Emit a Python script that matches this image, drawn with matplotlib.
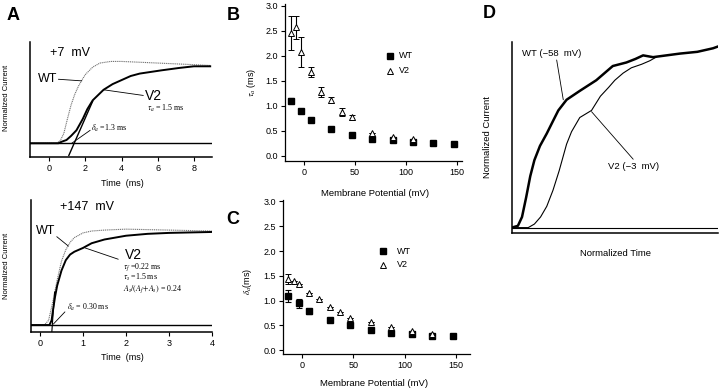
#!/usr/bin/env python3
"""Activation kinetics of WT vs V2 channels: traces, tau_a and delta_a vs voltage."""
import matplotlib
matplotlib.use("Agg")
import matplotlib.pyplot as plt

plt.rcParams["font.family"] = ["Liberation Sans", "DejaVu Sans"]
plt.rcParams["mathtext.fontset"] = "stix"

W, H = 720, 392

# ---- panel A, +7 mV traces (time in ms, normalized current)
t7_wt = [-1.07, 0.4, 0.6, 0.8, 1.0, 1.2, 1.4, 1.6, 1.8, 2.0, 2.4, 2.8, 3.4, 4.0, 5.0, 6.0, 7.0, 8.0, 8.9]
i7_wt = [0.0, 0.0, 0.03, 0.12, 0.30, 0.47, 0.60, 0.70, 0.78, 0.85, 0.94, 0.99, 1.01, 1.01, 1.0, 0.99, 0.98, 0.97, 0.96]
t7_v2 = [-1.07, 0.5, 0.7, 0.95, 1.2, 1.5, 1.85, 2.1, 2.4, 3.0, 3.5, 4.0, 4.5, 5.0, 6.2, 7.2, 8.0, 8.9]
i7_v2 = [0.0, 0.0, 0.02, 0.04, 0.09, 0.16, 0.30, 0.42, 0.53, 0.66, 0.73, 0.78, 0.83, 0.86, 0.90, 0.93, 0.95, 0.95]
t7_fit = [1.08, 2.4]
i7_fit = [-0.15, 0.52]

# ---- panel A, +147 mV traces
t147_wt = [-0.22, 0.1, 0.2, 0.3, 0.4, 0.5, 0.6, 0.7, 0.8, 1.0, 1.2, 1.5, 2.0, 3.0, 4.0]
i147_wt = [0.0, 0.0, 0.05, 0.25, 0.48, 0.68, 0.80, 0.88, 0.93, 0.98, 1.0, 1.01, 1.02, 1.01, 1.0]
t147_v2 = [-0.22, 0.22, 0.27, 0.30, 0.35, 0.40, 0.50, 0.60, 0.70, 0.80, 1.0, 1.2, 1.5, 2.0, 2.5, 3.0, 4.0]
i147_v2 = [0.0, 0.0, 0.05, 0.15, 0.30, 0.42, 0.58, 0.69, 0.75, 0.78, 0.82, 0.87, 0.91, 0.95, 0.97, 0.98, 0.99]
t147_fit = [0.275, 0.34]
i147_fit = [-0.075, 0.35]

# ---- panel B, tau_a (ms) vs membrane potential (mV)
vm_wt = [-13, -3, 7, 27, 47, 67, 87, 107, 127, 147]
tau_wt = [1.10, 0.89, 0.72, 0.54, 0.41, 0.34, 0.31, 0.27, 0.25, 0.24]
tau_wt_err = [0.05, 0.04, 0, 0, 0, 0, 0, 0, 0, 0]
vm_v2 = [-13, -8, -3, 7, 17, 27, 37, 47, 67, 87, 107]
tau_v2 = [2.45, 2.57, 2.07, 1.67, 1.27, 1.11, 0.87, 0.77, 0.46, 0.37, 0.34]
tau_v2_err = [0.34, 0.23, 0.30, 0.10, 0.10, 0.06, 0.08, 0.05, 0, 0, 0]

# ---- panel C, delta_a (ms) vs membrane potential (mV)
delta_wt = [1.10, 0.94, 0.78, 0.61, 0.50, 0.41, 0.35, 0.32, 0.28, 0.28]
delta_wt_err = [0.12, 0.09, 0.05, 0, 0, 0, 0, 0, 0, 0]
vm_v2_c = [-13, -8, -3, 7, 17, 27, 37, 47, 67, 87, 107, 127]
delta_v2 = [1.43, 1.40, 1.33, 1.15, 1.04, 0.86, 0.76, 0.65, 0.56, 0.46, 0.38, 0.33]
delta_v2_err = [0.10, 0, 0, 0, 0, 0, 0, 0, 0, 0, 0, 0]

# ---- panel D, normalized time / current
td_wt = [0.0, 0.03, 0.05, 0.07, 0.09, 0.11, 0.137, 0.17, 0.2, 0.226, 0.266, 0.33, 0.41, 0.49, 0.556, 0.6, 0.637, 0.685, 0.75, 0.815, 0.9, 0.976, 1.0]
id_wt = [0.0, 0.01, 0.06, 0.17, 0.29, 0.38, 0.46, 0.53, 0.60, 0.66, 0.72, 0.77, 0.83, 0.91, 0.93, 0.95, 0.97, 0.96, 0.97, 0.98, 0.99, 1.01, 1.02]
td_v2 = [0.0, 0.08, 0.11, 0.14, 0.17, 0.2, 0.23, 0.266, 0.29, 0.33, 0.387, 0.43, 0.47, 0.5, 0.54, 0.58, 0.63, 0.67, 0.7]
id_v2 = [0.0, 0.0, 0.02, 0.06, 0.12, 0.21, 0.32, 0.47, 0.54, 0.62, 0.66, 0.74, 0.79, 0.83, 0.87, 0.90, 0.92, 0.94, 0.96]

fig = plt.figure(figsize=(W / 100, H / 100), dpi=100)


def px_axes(l, t, r, b):
    return fig.add_axes([l / W, 1 - b / H, (r - l) / W, (b - t) / H])


def ftext(x, y, s, **kw):
    kw.setdefault("ha", "center")
    kw.setdefault("va", "center")
    fig.text(x / W, 1 - y / H, s, **kw)


def trace_axes(ax, xlim, ylim, xticks):
    ax.set_xlim(*xlim)
    ax.set_ylim(*ylim)
    for side in ("top", "right"):
        ax.spines[side].set_visible(False)
    for side in ("left", "bottom"):
        ax.spines[side].set_linewidth(1.1)
    ax.set_yticks([])
    ax.set_xticks(xticks)
    ax.tick_params(axis="x", direction="out", length=3, width=0.8, pad=2, labelsize=6.5)
    ax.patch.set_alpha(0)


serif = {"family": ["Liberation Serif", "DejaVu Serif"], "fontsize": 5.7}
line_kw = dict(arrowstyle="-", lw=0.6, color="black", shrinkA=0, shrinkB=0)

# ---- A top
ax = px_axes(30, 42, 212, 157)
trace_axes(ax, (-1.07, 9.0), (-0.17, 1.25), [0, 2, 4, 6, 8])
ax.axhline(0, color="black", lw=1.0)
ax.plot(t7_wt, i7_wt, color="0.45", lw=0.8, ls=(0, (1, 0.7)))
ax.plot(t7_v2, i7_v2, color="black", lw=1.4)
ax.plot(t7_fit, i7_fit, color="black", lw=1.0)
ax.text(0.04, 1.11, "+7  mV", fontsize=9, va="center")
ax.text(-0.61, 0.79, "WT", fontsize=9, va="center")
ax.annotate("", xy=(1.8, 0.77), xytext=(0.5, 0.79), arrowprops=line_kw)
ax.text(5.3, 0.58, "V2", fontsize=10, va="center")
ax.annotate("", xy=(3.0, 0.66), xytext=(5.2, 0.59), arrowprops=line_kw)
ax.text(5.4, 0.43, r"$\tau_a$ = 1.5 ms", va="center", **serif)
ax.text(2.3, 0.185, r"$\delta_a$ =1.3 ms", va="center", **serif)
ax.annotate("", xy=(1.24, 0.0), xytext=(2.26, 0.16), arrowprops=line_kw)
ftext(122, 183, "Time  (ms)", fontsize=6.5)
ftext(7, 98, "Normalized Current", fontsize=5.5, rotation=90)

# ---- A bottom
ax = px_axes(30.7, 200, 212, 332)
trace_axes(ax, (-0.216, 4.0), (-0.074, 1.33), [0, 1, 2, 3, 4])
ax.axhline(0, color="black", lw=1.0)
ax.plot(t147_wt, i147_wt, color="0.45", lw=0.8, ls=(0, (1, 0.7)))
ax.plot(t147_v2, i147_v2, color="black", lw=1.4)
ax.plot(t147_fit, i147_fit, color="black", lw=0.8)
ax.text(0.47, 1.26, "+147  mV", fontsize=9, va="center")
ax.text(-0.09, 1.0, "WT", fontsize=9, va="center")
ax.annotate("", xy=(0.66, 0.84), xytext=(0.39, 0.94), arrowprops=line_kw)
ax.text(1.98, 0.745, "V2", fontsize=10, va="center")
ax.annotate("", xy=(1.05, 0.82), xytext=(1.82, 0.70), arrowprops=line_kw)
ax.text(1.94, 0.615, r"$\tau_f$ =0.22 ms", va="center", **serif)
ax.text(1.94, 0.505, r"$\tau_s$ =1.5 ms", va="center", **serif)
ax.text(1.94, 0.38, r"$A_s/(A_f\!+\!A_s)$ = 0.24", va="center", **serif)
ax.text(0.62, 0.19, r"$\delta_a$ = 0.30 ms", va="center", **serif)
ax.annotate("", xy=(0.31, 0.01), xytext=(0.58, 0.14), arrowprops=line_kw)
ftext(122, 358, "Time  (ms)", fontsize=6.5)
ftext(7, 266, "Normalized Current", fontsize=5.5, rotation=90)


def scatter_axes(ax, xlim, ylim):
    ax.set_xlim(*xlim)
    ax.set_ylim(*ylim)
    for side in ("top", "right"):
        ax.spines[side].set_visible(False)
    for side in ("left", "bottom"):
        ax.spines[side].set_linewidth(0.9)
    ax.set_xticks([0, 50, 100, 150])
    ax.set_yticks([0, 0.5, 1.0, 1.5, 2.0, 2.5, 3.0])
    ax.set_yticklabels(["0.0", "0.5", "1.0", "1.5", "2.0", "2.5", "3.0"])
    ax.tick_params(direction="out", length=3, width=0.8, pad=2, labelsize=6.5)
    ax.patch.set_alpha(0)


err_kw = dict(ecolor="black", elinewidth=0.8, capsize=2.2, capthick=0.8, linestyle="none")


def draw_points(ax, x1, y1, e1, x2, y2, e2):
    ax.errorbar(x1, y1, yerr=e1, marker="s", ms=5, mfc="black", mec="black", **err_kw)
    ax.errorbar(x2, y2, yerr=e2, marker="^", ms=5, mfc="white", mec="black", mew=0.7, **err_kw)


# ---- B
ax = px_axes(285, 4, 461.7, 160.7)
scatter_axes(ax, (-18.7, 155), (-0.1, 3.04))
draw_points(ax, vm_wt, tau_wt, tau_wt_err, vm_v2, tau_v2, tau_v2_err)
ax.plot([85], [2.0], marker="s", ms=5, color="black", ls="none")
ax.plot([85], [1.7], marker="^", ms=5, mfc="white", mec="black", mew=0.7, ls="none")
ax.text(93, 2.0, "WT", fontsize=6.5, va="center")
ax.text(93, 1.7, "V2", fontsize=6.5, va="center")
ftext(375, 193, "Membrane Potential (mV)", fontsize=6.8)
ftext(251, 82, r"$\tau_a$ (ms)", fontsize=6.5, rotation=90)

# ---- C
ax = px_axes(282.7, 200, 470, 354)
scatter_axes(ax, (-18.5, 163.5), (-0.08, 3.03))
draw_points(ax, vm_wt, delta_wt, delta_wt_err, vm_v2_c, delta_v2, delta_v2_err)
ax.plot([79], [1.99], marker="s", ms=5, color="black", ls="none")
ax.plot([79], [1.72], marker="^", ms=5, mfc="white", mec="black", mew=0.7, ls="none")
ax.text(93, 1.99, "WT", fontsize=6.5, va="center")
ax.text(93, 1.72, "V2", fontsize=6.5, va="center")
ftext(374, 384, "Membrane Potential (mV)", fontsize=6.8)
ftext(247, 281, r"$\delta_a$(ms)", fontsize=6.5, rotation=90)

# ---- D
ax = px_axes(511.7, 41.7, 718, 233.3)
ax.set_xlim(0, 1)
ax.set_ylim(-0.032, 1.047)
for side in ("top", "right"):
    ax.spines[side].set_visible(False)
for side in ("left", "bottom"):
    ax.spines[side].set_linewidth(1.1)
ax.set_xticks([])
ax.set_yticks([])
ax.patch.set_alpha(0)
ax.axhline(0, color="black", lw=0.8)
ax.plot(td_v2, id_v2, color="black", lw=0.8)
ax.plot(td_wt, id_wt, color="black", lw=1.8)
ax.text(0.048, 0.98, "WT (\u221258  mV)", fontsize=6.8, va="center")
ax.annotate("", xy=(0.25, 0.72), xytext=(0.218, 0.944), arrowprops=line_kw)
ax.text(0.468, 0.343, "V2 (\u22123  mV)", fontsize=6.8, va="center")
ax.annotate("", xy=(0.387, 0.653), xytext=(0.589, 0.385), arrowprops=line_kw)
ftext(615, 253, "Normalized Time", fontsize=6.8)
ftext(488, 137, "Normalized Current", fontsize=6.8, rotation=90)

# ---- panel letters
for letter, x, y in [("A", 13, 15), ("B", 233, 15), ("C", 233, 220), ("D", 489, 14)]:
    ftext(x, y, letter, fontsize=13, fontweight="bold")

fig.savefig("out.png", dpi=100)
